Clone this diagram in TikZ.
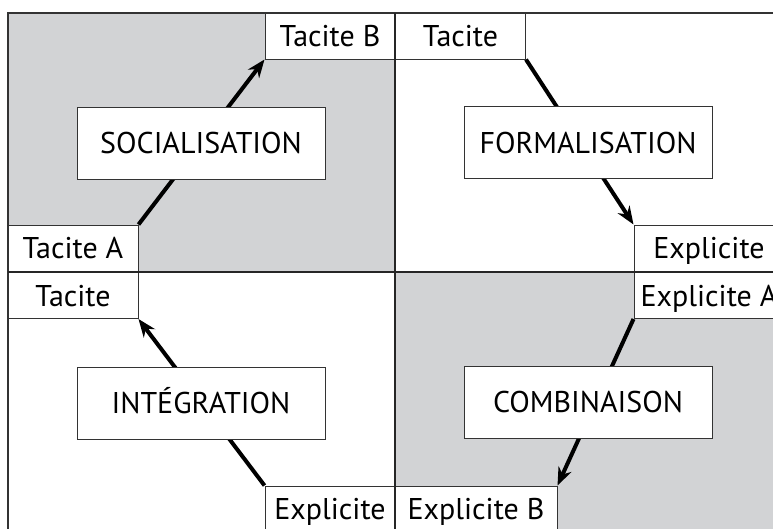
\documentclass[tikz,border=0pt]{standalone}
\usepackage{fontspec}
\setmainfont{PT Sans}
\usetikzlibrary{arrows.meta, backgrounds}
\definecolor{quadgray}{RGB}{210,211,213}

\begin{document}
\begin{tikzpicture}[x=1pt, y=-1pt,
    box/.style={draw=black!80, fill=white, line width=1pt, inner sep=0pt,
      font=\fontsize{30}{34}\selectfont, text height=21pt, text depth=0pt,
      minimum height=46pt},
    small/.style={box, minimum width=130pt},
    wide/.style={box, minimum width=150pt},
    mode/.style={box, minimum width=248pt, minimum height=72pt},
    flow/.style={line width=4pt, -{Stealth[length=18pt, width=14pt]}}]
    \clip (0,0) rectangle (773,528);
    % socialisation
    \node[small] (tacB) at (330,36) {Tacite B};
    \node[small] (tacA) at (73,248) {Tacite A};
    \node[mode] (soc) at (201,143) {SOCIALISATION};
    % formalisation
    \node[small] (tacF) at (460.5,36) {Tacite};
    \node[mode] (form) at (588,142.5) {FORMALISATION};
    \node[wide] (explF) at (709,248) {Explicite};
    % integration
    \node[small] (tacI) at (73,295.5) {Tacite};
    \node[mode] (integ) at (201,403) {INTÉGRATION};
    \node[small] (explI) at (330,509) {Explicite};
    % combinaison
    \node[wide] (explA) at (709,295.5) {Explicite A};
    \node[mode] (comb) at (588,402) {COMBINAISON};
    \node[box, minimum width=162pt] (explB) at (476,509) {Explicite B};
    \begin{scope}[on background layer]
        \fill[quadgray] (8,13) rectangle (395,271.5);
        \fill[quadgray] (395,271.5) rectangle (790,540);
        \draw[flow] (tacA.north east) -- (tacB.south west);
        \draw[flow] (tacF.south east) -- (explF.north west);
        \draw[flow] (explI.north west) -- (tacI.south east);
        \draw[flow] (explA.south west) -- (explB.north east);
    \end{scope}
    % frame and quadrant lines
    \draw[black!80, line width=1.5pt] (8,540) -- (8,13) -- (790,13);
    \draw[black!85, line width=2pt] (395,13) -- (395,540);
    \draw[black!85, line width=2pt] (8,271.5) -- (790,271.5);
\end{tikzpicture}
\end{document}
